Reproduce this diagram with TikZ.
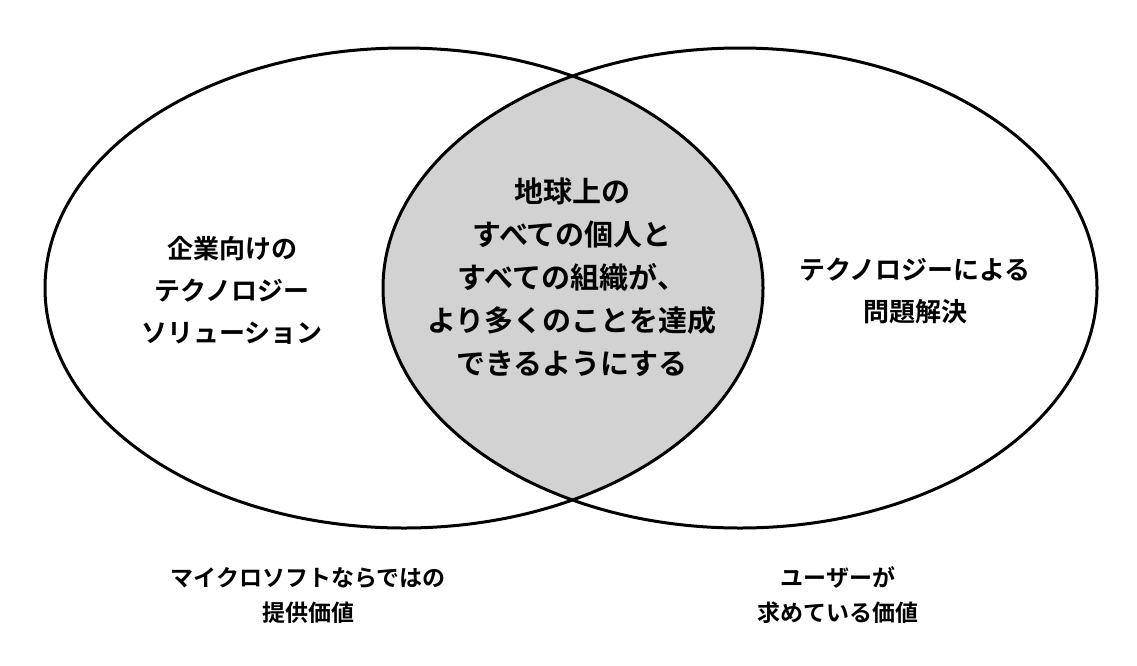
\documentclass[tikz,border=0pt]{standalone}
\usepackage{fontspec}
\setmainfont{Noto Sans CJK JP}[BoldFont={Noto Sans CJK JP Bold}]
\begin{document}
\begin{tikzpicture}[x=1pt,y=-1pt,
  ell/.style={draw=black,line width=3pt},
  txt/.style={align=center,font=\bfseries\fontsize{26}{42}\selectfont},
  ctxt/.style={align=center,font=\bfseries\fontsize{29}{43}\selectfont},
  btxt/.style={align=center,font=\bfseries\fontsize{23}{35}\selectfont}]
\useasboundingbox (0,0) rectangle (1137,665);
\begin{scope}
  \clip (404,288) ellipse [x radius=359,y radius=240];
  \fill[gray!35] (740,288) ellipse [x radius=357,y radius=240];
\end{scope}
\draw[ell] (404,288) ellipse [x radius=359,y radius=240];
\draw[ell] (740,288) ellipse [x radius=357,y radius=240];
\node[ctxt] (c) at (572,277) {地球上の\\すべての個人と\\すべての組織が、\\より多くのことを達成\\できるようにする};
\node[txt] (l) at (232,290) {企業向けの\\テクノロジー\\ソリューション};
\node[txt] (r) at (915,291) {テクノロジーによる\\問題解決};
\node[btxt] (bl) at (308,595) {マイクロソフトならではの\\提供価値};
\node[btxt] (br) at (838,595) {ユーザーが\\求めている価値};
\end{tikzpicture}
\end{document}
